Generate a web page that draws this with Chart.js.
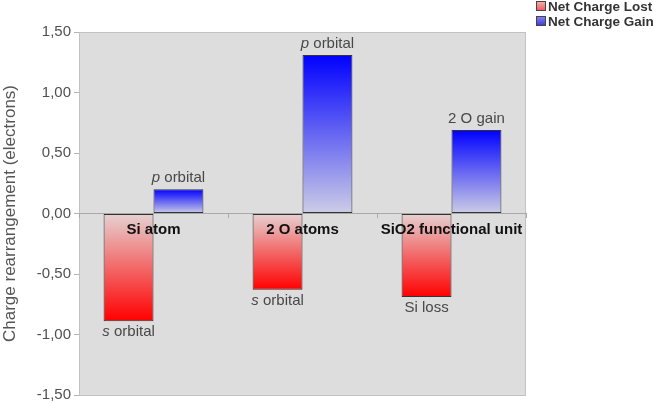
<!DOCTYPE html>
<html>
<head>
<meta charset="utf-8">
<script src="https://cdn.jsdelivr.net/npm/chart.js@4/dist/chart.umd.min.js"></script>
<style>
  html, body { margin: 0; padding: 0; background: #ffffff; }
  #wrap { width: 654px; height: 403px; position: relative; }
</style>
</head>
<body>
<div id="wrap"><canvas id="c" width="654" height="403"></canvas></div>
<script>
// ---- data ----
const categories = ['Si atom', '2 O atoms', 'SiO2 functional unit'];
const chargeLost = [-0.89, -0.63, -0.69];
const chargeGain = [0.20, 1.31, 0.69];
const lostNotes = ['*s* orbital', '*s* orbital', 'Si loss'];
const gainNotes = ['*p* orbital', '*p* orbital', '2 O gain'];
const seriesNames = ['Net Charge Lost', 'Net Charge Gain'];
const yTicks = [-1.5, -1.0, -0.5, 0, 0.5, 1.0, 1.5];
const yTitle = 'Charge rearrangement (electrons)';

Chart.defaults.font.family = "'Liberation Sans', Arial, sans-serif";

const FONT = "'Liberation Sans', Arial, sans-serif";
const redLight = '#e6d2d2', redStrong = '#ff0000';
const blueLight = '#cdcde6', blueStrong = '#0000ff';

function gradFill(light, strong) {
  return (ctx) => {
    const chart = ctx.chart;
    if (!chart.chartArea || ctx.raw === undefined) return strong;
    const ys = chart.scales.y;
    const y0 = ys.getPixelForValue(0);
    const y1 = ys.getPixelForValue(ctx.raw);
    if (Math.abs(y1 - y0) < 1) return strong;
    const g = chart.ctx.createLinearGradient(0, y0, 0, y1);
    g.addColorStop(0, light);
    g.addColorStop(1, strong);
    return g;
  };
}

function drawRich(ctx, text, x, y) {
  const parts = text.split('*');
  const segs = parts.map((t, i) => ({ t, it: i % 2 === 1 })).filter(s => s.t.length);
  const fontN = '15px ' + FONT, fontI = 'italic 15px ' + FONT;
  let total = 0;
  segs.forEach(s => { ctx.font = s.it ? fontI : fontN; s.w = ctx.measureText(s.t).width; total += s.w; });
  let cx = x - total / 2;
  ctx.textAlign = 'left';
  segs.forEach(s => { ctx.font = s.it ? fontI : fontN; ctx.fillText(s.t, cx, y); cx += s.w; });
}

const plotBg = {
  id: 'plotBg',
  beforeDraw(chart) {
    const { ctx, chartArea: a } = chart;
    ctx.save();
    ctx.fillStyle = '#dddddd';
    ctx.fillRect(a.left, a.top, a.right - a.left, a.bottom - a.top);
    ctx.strokeStyle = '#c2c2c2';
    ctx.lineWidth = 1;
    ctx.strokeRect(a.left + 0.5, a.top + 0.5, a.right - a.left - 1, a.bottom - a.top);
    ctx.restore();
  }
};

const barNotes = {
  id: 'barNotes',
  afterDraw(chart) {
    const ctx = chart.ctx;
    ctx.save();
    ctx.fillStyle = '#484848';
    ctx.textBaseline = 'alphabetic';
    const m0 = chart.getDatasetMeta(0), m1 = chart.getDatasetMeta(1);
    m0.data.forEach((el, i) => drawRich(ctx, lostNotes[i], el.x, el.y + 15));
    m1.data.forEach((el, i) => drawRich(ctx, gainNotes[i], el.x, el.y - 7));
    ctx.restore();
  }
};

const sideLegend = {
  id: 'sideLegend',
  afterDraw(chart) {
    const ctx = chart.ctx;
    ctx.save();
    const items = [
      { name: seriesNames[0], c1: '#f6a8a8', c2: '#ee6060' },
      { name: seriesNames[1], c1: '#8080f0', c2: '#4040d8' }
    ];
    items.forEach((it, i) => {
      const y = 2 + i * 15;
      const g = ctx.createLinearGradient(0, y, 0, y + 8);
      g.addColorStop(0, it.c1); g.addColorStop(1, it.c2);
      ctx.fillStyle = g;
      ctx.fillRect(537, y, 8, 8);
      ctx.strokeStyle = '#444';
      ctx.lineWidth = 1;
      ctx.strokeRect(536.5, y - 0.5, 9, 9);
      ctx.fillStyle = '#333333';
      ctx.font = 'bold 13.5px ' + FONT;
      ctx.textAlign = 'left';
      ctx.textBaseline = 'alphabetic';
      ctx.fillText(it.name, 548, y + 9);
    });
    ctx.restore();
  }
};

new Chart(document.getElementById('c'), {
  type: 'bar',
  data: {
    labels: categories,
    datasets: [
      {
        label: seriesNames[0],
        data: chargeLost,
        backgroundColor: gradFill(redLight, redStrong),
        borderColor: '#333333',
        borderWidth: 1,
        borderSkipped: false,
        barPercentage: 1.0,
        categoryPercentage: 0.67
      },
      {
        label: seriesNames[1],
        data: chargeGain,
        backgroundColor: gradFill(blueLight, blueStrong),
        borderColor: '#333333',
        borderWidth: 1,
        borderSkipped: false,
        barPercentage: 1.0,
        categoryPercentage: 0.67
      }
    ]
  },
  options: {
    responsive: false,
    animation: false,
    layout: { padding: { left: 0, right: 128, top: 32, bottom: 8 } },
    plugins: {
      legend: { display: false },
      tooltip: { enabled: false }
    },
    scales: {
      x: {
        type: 'category',
        position: { y: 0 },
        offset: true,
        grid: { display: true, drawOnChartArea: false, drawTicks: true, tickLength: 4, color: '#aaaaaa', offset: true, z: 1 },
        border: { display: true, color: '#a9a9a9', width: 1, z: 1 },
        ticks: {
          z: 2,
          color: '#111111',
          font: { size: 15, weight: 'bold', family: FONT },
          padding: 3,
          maxRotation: 0,
          minRotation: 0,
          autoSkip: false
        }
      },
      y: {
        min: -1.5,
        max: 1.5,
        afterFit(scale) { scale.width = 79; },
        afterBuildTicks(scale) { scale.ticks = yTicks.map(v => ({ value: v })); },
        grid: { display: true, drawOnChartArea: false, drawTicks: true, tickLength: 5, color: '#b4b4b4' },
        border: { display: false },
        ticks: {
          color: '#505050',
          font: { size: 15, lineHeight: 0.6, family: FONT },
          padding: 3,
          callback: (v) => Number(v).toFixed(2).replace('.', ',')
        },
        title: {
          display: true,
          text: yTitle,
          color: '#555555',
          font: { size: 17, family: FONT },
          padding: { top: 0, bottom: 0 }
        }
      }
    }
  },
  plugins: [plotBg, barNotes, sideLegend]
});
</script>
</body>
</html>
